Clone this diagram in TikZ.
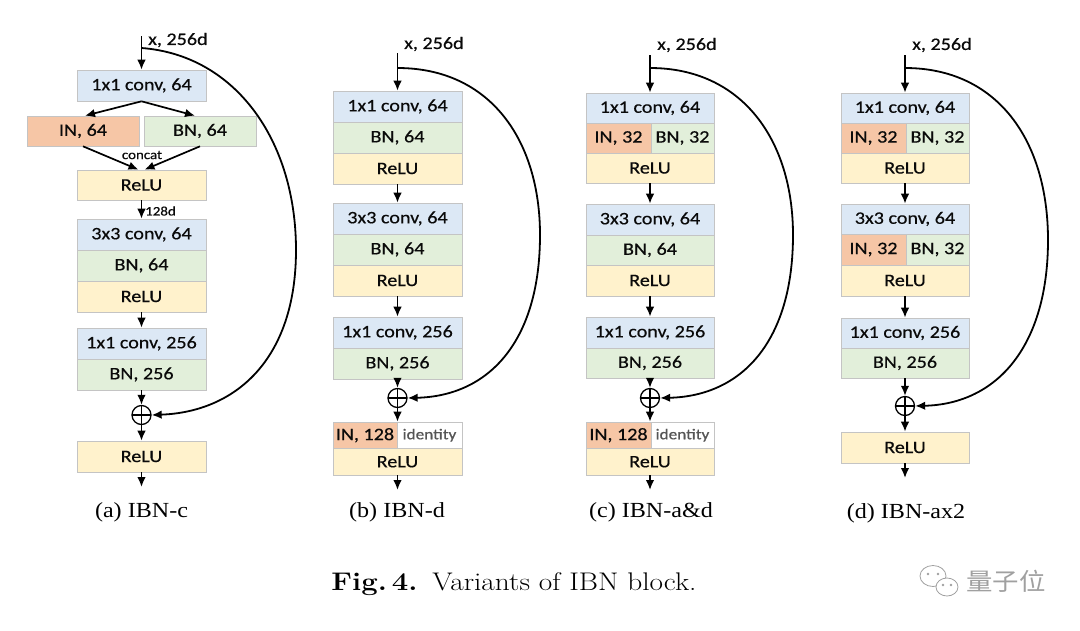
\documentclass[tikz,border=0pt]{standalone}
\usepackage{fontspec}
\usepackage{graphicx}
\usetikzlibrary{arrows.meta,calc}
\newfontfamily\boxfnt{Carlito}[FakeStretch=1.15,FakeBold=0.45]
\newfontfamily\subfnt{Liberation Serif}[FakeStretch=1.12]
\newfontfamily\cjk{Noto Sans CJK SC}
\definecolor{cblue}{HTML}{DCE8F5}
\definecolor{cgreen}{HTML}{E2EFDA}
\definecolor{cyellow}{HTML}{FFF2CC}
\definecolor{corange}{HTML}{F6C6A6}
\definecolor{bd}{HTML}{C4C4C4}
\definecolor{txt}{HTML}{0A0A0A}
\definecolor{idtxt}{HTML}{555555}
\definecolor{wmc}{HTML}{A0A0A0}
\begin{document}
\begin{tikzpicture}[x=1pt,y=-1pt,
  blk/.style={rectangle, draw=bd, line width=0.6pt, inner sep=0pt, font=\boxfnt\fontsize{17.5}{20}\selectfont, text=txt, minimum width=129pt, minimum height=31pt},
  cw/.style={minimum width=128pt},
  conv/.style={blk, fill=cblue},
  bn/.style={blk, fill=cgreen},
  relu/.style={blk, fill=cyellow},
  inn/.style={blk, fill=corange},
  idn/.style={blk, fill=white, font=\boxfnt\fontsize{15}{18}\selectfont, text=idtxt},
  lbl/.style={inner sep=0pt, font=\boxfnt\fontsize{17.5}{20}\selectfont, text=txt},
  smalllbl/.style={inner sep=0pt, font=\boxfnt\fontsize{13}{15}\selectfont, text=txt},
  sub/.style={inner sep=0pt, font=\subfnt\fontsize{21.5}{24}\selectfont},
  arr/.style={-{Latex[length=10pt,width=8.5pt]}, line width=1.7pt},
  skiparr/.style={arr, line width=1.8pt},
  plus/.style={circle, draw, line width=1.3pt, minimum size=19pt, inner sep=0pt,
    path picture={\draw[line width=1.3pt] (path picture bounding box.north) -- (path picture bounding box.south) (path picture bounding box.west) -- (path picture bounding box.east);}},
  wm/.style={draw=wmc, line width=0.8pt}
]
\fill[white] (0,0) rectangle (1080,630);
\useasboundingbox (0,0) rectangle (1080,630);

% ---------- (a) IBN-c ----------
\coordinate (at) at (141.5,36);
\coordinate (as) at (141.5,48);
\coordinate (ae) at (141.5,487);
\node[lbl, anchor=west] (ax) at (148,40) {x, 256d};
\node[conv] (a1) at (141.5,85.5) {1x1 conv, 64};
\node[inn, minimum width=112pt, minimum height=30pt] (a2) at (83,131) {IN, 64};
\node[bn, minimum width=112pt, minimum height=30pt] (a3) at (200,131) {BN, 64};
\node[relu, minimum height=30pt] (a4) at (141.5,185) {ReLU};
\node[conv] (a5) at (141.5,234.5) {3x3 conv, 64};
\node[bn] (a6) at (141.5,265.5) {BN, 64};
\node[relu] (a7) at (141.5,296.5) {ReLU};
\node[conv] (a8) at (141.5,343.5) {1x1 conv, 256};
\node[bn] (a9) at (141.5,374.5) {BN, 256};
\node[plus] (ap) at (141.5,415) {};
\node[relu] (a10) at (141.5,456.5) {ReLU};
\node[smalllbl] (acat) at (142,155) {concat};
\node[smalllbl, anchor=west] (a128) at (145,211) {128d};
\node[sub] (acap) at (141.5,512) {(a) IBN-c};
\draw[arr] (at) -- (a1.north);
\draw[arr] (a1.south) -- ($(a2.north)+(2,0)$);
\draw[arr] (a1.south) -- ($(a3.north)+(-5,0)$);
\draw[arr] (a2.south) -- ($(a4.north)+(-3,0)$);
\draw[arr] (a3.south) -- ($(a4.north)+(3,0)$);
\draw[arr] (a4.south) -- (a5.north);
\draw[arr] (a7.south) -- (a8.north);
\draw[arr] (a9.south) -- (ap.north);
\draw[arr] (ap.south) -- (a10.north);
\draw[arr] (a10.south) -- (ae);
\draw[skiparr] (as) .. controls (235,55) and (296,140) .. (296,250) .. controls (296,360) and (235,412) .. (ap.east);

% ---------- (b) IBN-d ----------
\coordinate (bt) at (397.5,53);
\coordinate (bs) at (397.5,68);
\coordinate (be) at (397.5,490);
\node[lbl, anchor=west] (bx) at (404,44) {x, 256d};
\node[conv] (b1) at (397.5,106.5) {1x1 conv, 64};
\node[bn] (b2) at (397.5,137.5) {BN, 64};
\node[relu] (b3) at (397.5,168.5) {ReLU};
\node[conv] (b4) at (397.5,218.5) {3x3 conv, 64};
\node[bn] (b5) at (397.5,249.5) {BN, 64};
\node[relu] (b6) at (397.5,280.5) {ReLU};
\node[conv] (b7) at (397.5,332.5) {1x1 conv, 256};
\node[bn] (b8) at (397.5,363.5) {BN, 256};
\node[plus] (bp) at (397.5,398) {};
\node[inn, minimum width=64pt, minimum height=26.5pt] (b9) at (365,435.25) {IN, 128};
\node[idn, minimum width=65pt, minimum height=26.5pt] (b10) at (429.5,435.25) {identity};
\node[relu, minimum height=26.5pt] (b11) at (397.5,461.75) {ReLU};
\node[sub] (bcap) at (397,512) {(b) IBN-d};
\draw[arr] (bt) -- (b1.north);
\draw[arr] (b3.south) -- (b4.north);
\draw[arr] (b6.south) -- (b7.north);
\draw[arr] (b8.south) -- (bp.north);
\draw[arr] (bp.south) -- (b11.north |- b9.north);
\draw[arr] (b11.south) -- (be);
\draw[skiparr] (bs) .. controls (490,68) and (540,140) .. (540,235) .. controls (540,340) and (490,396) .. (bp.east);

% ---------- (c) IBN-a&d ----------
\coordinate (ct) at (650,55);
\coordinate (cs) at (650,68);
\coordinate (ce) at (650,490);
\node[lbl, anchor=west] (cx) at (657,45) {x, 256d};
\node[conv, cw, minimum height=30pt] (c1) at (650,108) {1x1 conv, 64};
\node[inn, minimum width=65pt, minimum height=30pt] (c2) at (618.5,138) {IN, 32};
\node[bn, minimum width=63pt, minimum height=30pt] (c3) at (682.5,138) {BN, 32};
\node[relu, cw, minimum height=30pt] (c4) at (650,168) {ReLU};
\node[conv, cw] (c5) at (650,219.5) {3x3 conv, 64};
\node[bn, cw, minimum height=30pt] (c6) at (650,250) {BN, 64};
\node[relu, cw] (c7) at (650,280.5) {ReLU};
\node[conv, cw] (c8) at (650,332.5) {1x1 conv, 256};
\node[bn, cw, minimum height=30pt] (c9) at (650,363) {BN, 256};
\node[plus] (cp) at (650,398) {};
\node[inn, minimum width=65pt, minimum height=26.5pt] (c10) at (618.5,435.25) {IN, 128};
\node[idn, minimum width=63pt, minimum height=26.5pt] (c11) at (682.5,435.25) {identity};
\node[relu, cw, minimum height=26.5pt] (c12) at (650,461.75) {ReLU};
\node[sub] (ccap) at (651,512) {(c) IBN-a\&d};
\draw[arr] (ct) -- (c1.north);
\draw[arr] (c4.south) -- (c5.north);
\draw[arr] (c7.south) -- (c8.north);
\draw[arr] (c9.south) -- (cp.north);
\draw[arr] (cp.south) -- (c12.north |- c10.north);
\draw[arr] (c12.south) -- (ce);
\draw[skiparr] (cs) .. controls (742,68) and (793,140) .. (793,235) .. controls (793,340) and (743,396) .. (cp.east);

% ---------- (d) IBN-ax2 ----------
\coordinate (dt) at (905,55);
\coordinate (ds) at (905,68);
\coordinate (de) at (905,478);
\node[lbl, anchor=west] (dx) at (912,45) {x, 256d};
\node[conv, cw, minimum height=30pt] (d1) at (905,108) {1x1 conv, 64};
\node[inn, minimum width=65pt, minimum height=30pt] (d2) at (873.5,138) {IN, 32};
\node[bn, minimum width=63pt, minimum height=30pt] (d3) at (937.5,138) {BN, 32};
\node[relu, cw, minimum height=30pt] (d4) at (905,168) {ReLU};
\node[conv, cw, minimum height=30pt] (d5) at (905,219) {3x3 conv, 64};
\node[inn, minimum width=65pt] (d6) at (873.5,249.5) {IN, 32};
\node[bn, minimum width=63pt] (d7) at (937.5,249.5) {BN, 32};
\node[relu, cw] (d8) at (905,280.5) {ReLU};
\node[conv, cw, minimum height=30pt] (d9) at (905,333) {1x1 conv, 256};
\node[bn, cw, minimum height=30pt] (d10) at (905,363) {BN, 256};
\node[plus] (dp) at (905,406) {};
\node[relu, cw] (d11) at (905,447.5) {ReLU};
\node[sub] (dcap) at (906,513) {(d) IBN-ax2};
\draw[arr] (dt) -- (d1.north);
\draw[arr] (d4.south) -- (d5.north);
\draw[arr] (d8.south) -- (d9.north);
\draw[arr] (d10.south) -- (dp.north);
\draw[arr] (dp.south) -- (d11.north);
\draw[arr] (d11.south) -- (de);
\draw[skiparr] (ds) .. controls (997,68) and (1048,140) .. (1048,240) .. controls (1048,345) and (998,404) .. (dp.east);

% ---------- caption ----------
\node[inner sep=0pt] (cap) at (514,584) {\scalebox{1.15}[1]{\fontsize{25.5}{29}\selectfont\textbf{Fig.\,4.}\hspace{0.5em}Variants of IBN block.}};

% ---------- watermark ----------
\draw[wm] (933,576) ellipse [x radius=13, y radius=10.5];
\filldraw[wm, fill=white] (947,587) ellipse [x radius=11, y radius=9];
\fill[wmc] (928,574) circle (1.3) (938,574) circle (1.3) (943,585) circle (1.3) (951,585) circle (1.3);
\node[inner sep=0pt, text=wmc, anchor=west] (wmt) at (966,581) {\scalebox{1.1}[1]{\cjk\fontsize{24}{28}\selectfont 量子位}};
\end{tikzpicture}
\end{document}
